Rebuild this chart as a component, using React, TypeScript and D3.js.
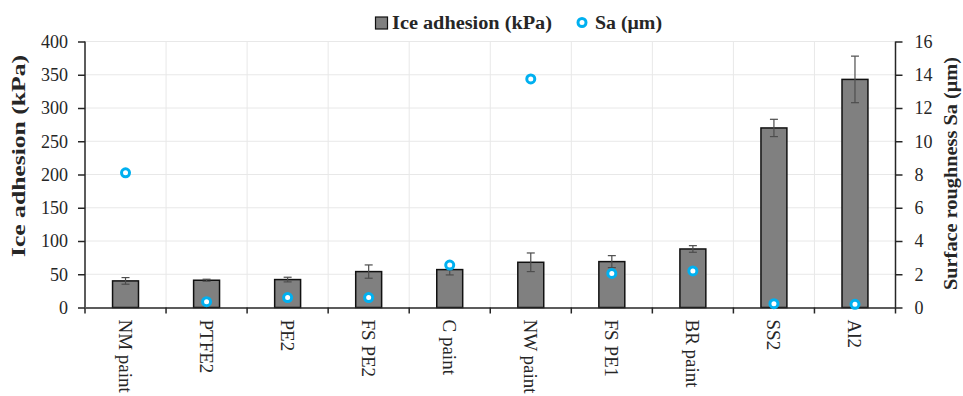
import React, { useEffect, useRef } from "react";
import * as d3 from "d3";

const categories = ["NM paint", "PTFE2", "PE2", "FS PE2", "C paint", "NW paint", "FS PE1", "BR paint", "SS2", "Al2"];
const adhesion = [40, 41, 42, 54, 57, 68, 69, 88, 270, 343];
const adhesionErr = [5, 1.5, 3.5, 10, 8, 14, 9, 5, 13, 35];
const roughness = [8.1, 0.35, 0.6, 0.6, 2.55, 13.75, 2.05, 2.2, 0.23, 0.19];
const leftTicks = [0, 50, 100, 150, 200, 250, 300, 350, 400];
const rightTicks = [0, 2, 4, 6, 8, 10, 12, 14, 16];

const App: React.FC = () => {
  const svgRef = useRef<SVGSVGElement | null>(null);

  useEffect(() => {
    const svg = d3.select(svgRef.current);
    svg.selectAll("*").remove();

    const w = 963;
    const h = 396;
    const m = { top: 41.5, right: 67.5, bottom: 88.5, left: 85 };
    const font = "'Liberation Serif', 'Times New Roman', serif";
    const axisColor = "#262626";

    svg.attr("width", w).attr("height", h).style("background-color", "#ffffff");

    const x = d3.scaleBand().domain(categories).range([m.left, w - m.right]);
    const yL = d3.scaleLinear().domain([0, 400]).range([h - m.bottom, m.top]);
    const yR = d3.scaleLinear().domain([0, 16]).range([h - m.bottom, m.top]);

    // gridlines
    svg.append("g")
      .selectAll("line")
      .data(leftTicks.slice(1))
      .enter()
      .append("line")
      .attr("x1", m.left)
      .attr("x2", w - m.right)
      .attr("y1", d => yL(d))
      .attr("y2", d => yL(d))
      .attr("stroke", "#e8e8e8")
      .attr("stroke-width", 1);

    svg.append("g")
      .selectAll("line")
      .data(categories.slice(1))
      .enter()
      .append("line")
      .attr("x1", d => x(d)!)
      .attr("x2", d => x(d)!)
      .attr("y1", m.top)
      .attr("y2", h - m.bottom)
      .attr("stroke", "#e8e8e8")
      .attr("stroke-width", 1);

    // bars
    const bw = x.bandwidth() * 0.32;
    svg.append("g")
      .selectAll("rect")
      .data(categories)
      .enter()
      .append("rect")
      .attr("x", d => x(d)! + x.bandwidth() / 2 - bw / 2)
      .attr("y", (d, i) => yL(adhesion[i]))
      .attr("width", bw)
      .attr("height", (d, i) => yL(0) - yL(adhesion[i]))
      .attr("fill", "#808080")
      .attr("stroke", "#111")
      .attr("stroke-width", 1.5);

    // error bars
    const eb = svg.append("g").attr("stroke", "#4d4d4d").attr("stroke-width", 1.2);
    categories.forEach((c, i) => {
      const cx = x(c)! + x.bandwidth() / 2;
      const top = yL(adhesion[i] + adhesionErr[i]);
      const bot = yL(adhesion[i] - adhesionErr[i]);
      eb.append("line").attr("x1", cx).attr("x2", cx).attr("y1", top).attr("y2", bot);
      eb.append("line").attr("x1", cx - 4).attr("x2", cx + 4).attr("y1", top).attr("y2", top);
      eb.append("line").attr("x1", cx - 4).attr("x2", cx + 4).attr("y1", bot).attr("y2", bot);
    });

    // axes
    const axL = svg.append("g")
      .attr("transform", `translate(${m.left},0)`)
      .call(d3.axisLeft(yL).tickValues(leftTicks).tickSize(7).tickPadding(10));
    const axR = svg.append("g")
      .attr("transform", `translate(${w - m.right},0)`)
      .call(d3.axisRight(yR).tickValues(rightTicks).tickSize(7).tickPadding(12));
    const axB = svg.append("g")
      .attr("transform", `translate(0,${h - m.bottom})`)
      .call(d3.axisBottom(x).tickSize(0).tickFormat(() => ""));
    [axL, axR, axB].forEach(a => {
      a.select(".domain").attr("stroke", axisColor).attr("stroke-width", 1.5);
      a.selectAll(".tick line").attr("stroke", axisColor).attr("stroke-width", 1.5);
      a.selectAll("text").attr("fill", "#262626").style("font-family", font).style("font-size", "18px");
    });
    axL.select(".domain").attr("d", `M0,${yL(400)}V${yL(0)}`);
    axR.select(".domain").attr("d", `M0,${yR(16)}V${yR(0)}`);

    // category boundary ticks
    const bounds = [...categories.map(c => x(c)!), w - m.right];
    svg.append("g")
      .selectAll("line")
      .data(bounds)
      .enter()
      .append("line")
      .attr("x1", d => d)
      .attr("x2", d => d)
      .attr("y1", h - m.bottom)
      .attr("y2", h - m.bottom + 6)
      .attr("stroke", axisColor)
      .attr("stroke-width", 1.5);

    // category labels
    svg.append("g")
      .selectAll("text")
      .data(categories)
      .enter()
      .append("text")
      .attr("transform", d => `translate(${x(d)! + x.bandwidth() / 2 - 7},${h - m.bottom + 12}) rotate(90)`)
      .attr("text-anchor", "start")
      .style("font-family", font)
      .style("font-size", "19px")
      .attr("fill", "#262626")
      .text(d => d);

    // scatter markers
    svg.append("g")
      .selectAll("circle")
      .data(categories)
      .enter()
      .append("circle")
      .attr("cx", d => x(d)! + x.bandwidth() / 2)
      .attr("cy", (d, i) => yR(roughness[i]))
      .attr("r", 4)
      .attr("fill", "#fff")
      .attr("stroke", "#00b0f0")
      .attr("stroke-width", 3);

    // axis titles
    svg.append("text")
      .attr("transform", `translate(25,156) rotate(-90)`)
      .attr("text-anchor", "middle")
      .attr("textLength", 202)
      .attr("lengthAdjust", "spacingAndGlyphs")
      .style("font-family", font)
      .style("font-size", "18px")
      .style("font-weight", "bold")
      .attr("fill", "#262626")
      .text("Ice adhesion (kPa)");
    svg.append("text")
      .attr("transform", `translate(957,173.5) rotate(-90)`)
      .attr("text-anchor", "middle")
      .attr("textLength", 233)
      .attr("lengthAdjust", "spacingAndGlyphs")
      .style("font-family", font)
      .style("font-size", "18px")
      .style("font-weight", "bold")
      .attr("fill", "#262626")
      .text("Surface roughness Sa (\u03bcm)");

    // legend
    const lg = svg.append("g");
    lg.append("rect")
      .attr("x", 375.5).attr("y", 17).attr("width", 12).attr("height", 12)
      .attr("fill", "#808080").attr("stroke", "#111").attr("stroke-width", 1.2);
    lg.append("text")
      .attr("x", 392).attr("y", 28.5)
      .attr("textLength", 160)
      .attr("lengthAdjust", "spacingAndGlyphs")
      .style("font-family", font).style("font-size", "18px").style("font-weight", "bold")
      .attr("fill", "#262626")
      .text("Ice adhesion (kPa)");
    lg.append("circle")
      .attr("cx", 582).attr("cy", 22.5).attr("r", 4)
      .attr("fill", "#fff").attr("stroke", "#00b0f0").attr("stroke-width", 3);
    lg.append("text")
      .attr("x", 595).attr("y", 28.5)
      .attr("textLength", 67)
      .attr("lengthAdjust", "spacingAndGlyphs")
      .style("font-family", font).style("font-size", "18px").style("font-weight", "bold")
      .attr("fill", "#262626")
      .text("Sa (\u03bcm)");
  }, []);

  return (
    <div style={{ position: "absolute", left: 0, top: 0, width: 963, height: 396 }}>
      <svg ref={svgRef}></svg>
    </div>
  );
};

export default App;
